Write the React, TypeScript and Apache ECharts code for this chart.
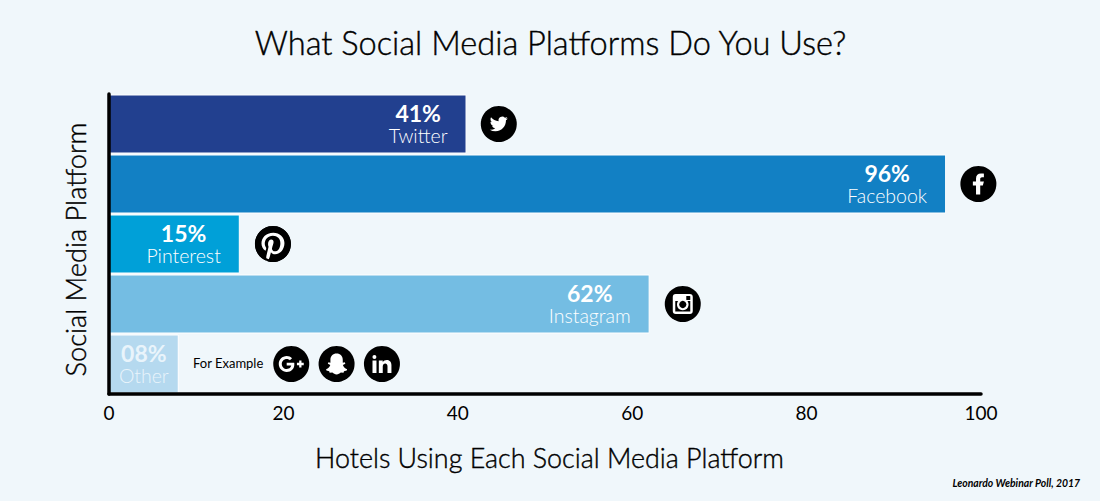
import React, { useEffect, useRef } from "react";
import * as echarts from "echarts";

const categories = ["Twitter", "Facebook", "Pinterest", "Instagram", "Other"];
const values = [41, 96, 15, 62, 8];
const valueLabels = ["41%", "96%", "15%", "62%", "08%"];
const barColors = ["#22408f", "#1280c4", "#00a0d8", "#74bde3", "#b5d9ef"];
const xTicks = [0, 20, 40, 60, 80, 100];

const iconCategories = ["Twitter", "Facebook", "Pinterest", "Instagram", "Other", "Other", "Other"];
const iconPositions = [44.7, 99.7, 18.8, 65.8, 20.9, 26.1, 31.3];
const iconNames = ["twitter", "facebook", "pinterest", "instagram", "google", "snapchat", "linkedin"];

const ICONS: Record<string, { d: string; size: number; inverted?: boolean }> = {
  twitter: {
    size: 18,
    d: "M23.953 4.57a10 10 0 0 1-2.825.775 4.958 4.958 0 0 0 2.163-2.723c-.951.555-2.005.959-3.127 1.184a4.92 4.92 0 0 0-8.384 4.482C7.69 8.095 4.067 6.13 1.64 3.162a4.822 4.822 0 0 0-.666 2.475c0 1.71.87 3.213 2.188 4.096a4.904 4.904 0 0 1-2.228-.616v.06a4.923 4.923 0 0 0 3.946 4.827 4.996 4.996 0 0 1-2.212.085 4.936 4.936 0 0 0 4.604 3.417 9.867 9.867 0 0 1-6.102 2.105c-.39 0-.779-.023-1.17-.067a13.995 13.995 0 0 0 7.557 2.209c9.053 0 13.998-7.496 13.998-13.985 0-.21 0-.42-.015-.63A9.935 9.935 0 0 0 24 4.59z",
  },
  facebook: {
    size: 21,
    d: "M14 13.5h2.5l1-4H14v-2c0-1.03 0-2 2-2h1.5V2.14c-.326-.043-1.557-.14-2.857-.14C11.928 2 10 3.657 10 6.7v2.8H7v4h3V22h4v-8.5z",
  },
  pinterest: {
    size: 36,
    inverted: true,
    d: "M12.017 0C5.396 0 .029 5.367.029 11.987c0 5.079 3.158 9.417 7.618 11.162-.105-.949-.199-2.403.041-3.439.219-.937 1.406-5.957 1.406-5.957s-.359-.72-.359-1.781c0-1.663.967-2.911 2.168-2.911 1.024 0 1.518.769 1.518 1.688 0 1.029-.653 2.567-.992 3.992-.285 1.193.6 2.165 1.775 2.165 2.128 0 3.768-2.245 3.768-5.487 0-2.861-2.063-4.869-5.008-4.869-3.41 0-5.409 2.562-5.409 5.199 0 1.033.394 2.143.889 2.741.099.12.112.225.085.345-.09.375-.293 1.199-.334 1.363-.053.225-.172.271-.401.165-1.495-.69-2.433-2.878-2.433-4.646 0-3.776 2.748-7.252 7.92-7.252 4.158 0 7.392 2.967 7.392 6.923 0 4.135-2.607 7.462-6.233 7.462-1.214 0-2.354-.629-2.758-1.379l-.749 2.848c-.269 1.045-1.004 2.352-1.498 3.146 1.123.345 2.306.535 3.55.535 6.607 0 11.985-5.365 11.985-11.987C23.97 5.39 18.592.026 11.985.026L12.017 0z",
  },
  google: {
    size: 25,
    d: "M7.635 10.909v2.619h4.335c-.173 1.125-1.31 3.295-4.331 3.295-2.604 0-4.731-2.16-4.731-4.823 0-2.662 2.122-4.822 4.728-4.822 1.485 0 2.478.633 3.045 1.178l2.073-1.994c-1.33-1.245-3.056-1.995-5.115-1.995C3.412 4.365 0 7.785 0 12s3.414 7.635 7.635 7.635c4.41 0 7.332-3.098 7.332-7.461 0-.501-.054-.885-.12-1.265H7.635zm16.365 0h-2.183V8.726h-2.183v2.183h-2.182v2.181h2.184v2.184h2.189V13.09H24",
  },
  snapchat: {
    size: 21,
    d: "M12 3c3 0 5 2.2 5 5.2v2.3l1.6-.4.5 1.2-2 1.1c.4 1.5 1.6 2.8 3.4 3.4l-.3 1-2.2.5-.4 1.2-2.2-.1c-1 .8-2 1.6-3.4 1.6s-2.4-.8-3.4-1.6l-2.2.1-.4-1.2-2.2-.5-.3-1c1.8-.6 3-1.9 3.4-3.4l-2-1.1.5-1.2 1.6.4V8.2C7 5.2 9 3 12 3z",
  },
  linkedin: {
    size: 19,
    d: "M6.94 5a2 2 0 1 1-4-.002 2 2 0 0 1 4 .002zM7 8.48H3V21h4V8.48zm6.32 0H9.34V21h3.94v-6.57c0-3.66 4.77-4 4.77 0V21H22v-7.93c0-6.17-7.06-5.94-8.72-2.91l.04-1.68z",
  },
};

const FONT = "Lato";
const BG = "#f0f7fb";
const HEADING = { fontFamily: FONT, fontWeight: 300, color: "#000", textBorderColor: "#000", textBorderWidth: 0.4 };

export default function App() {
  const ref = useRef<HTMLDivElement>(null);
  useEffect(() => {
    document.body.style.margin = "0";
    document.body.style.background = BG;
    const chart = echarts.init(ref.current!, undefined, { renderer: "svg" });
    chart.setOption({
      animation: false,
      backgroundColor: BG,
      textStyle: { fontFamily: FONT },
      title: [
        {
          text: "What Social Media Platforms Do You Use?",
          left: 545.5,
          top: 21,
          textAlign: "center",
          textStyle: { ...HEADING, fontSize: 32.6 },
        },
        {
          text: "Leonardo Webinar Poll, 2017",
          left: 1075,
          top: 473,
          textAlign: "right",
          textStyle: { fontFamily: FONT, fontSize: 10.4, fontStyle: "italic", fontWeight: 700, color: "#000" },
        },
      ],
      grid: { left: 109, right: 119, top: 94, bottom: 107 },
      xAxis: {
        type: "value",
        min: 0,
        max: 100,
        interval: 20,
        z: 10,
        name: "Hotels Using Each Social Media Platform",
        nameLocation: "middle",
        nameGap: 50,
        nameTextStyle: { ...HEADING, fontSize: 26.9, padding: [0, 0, 0, 9] },
        axisLine: { show: true, lineStyle: { color: "#000", width: 3.5 } },
        axisTick: { show: false },
        splitLine: { show: false },
        axisLabel: {
          margin: 9,
          fontFamily: FONT,
          fontSize: 19,
          color: "#000",
          customValues: xTicks,
        },
      },
      yAxis: {
        type: "category",
        inverse: true,
        data: categories,
        z: 10,
        name: "Social Media Platform",
        nameLocation: "middle",
        nameGap: 20,
        nameRotate: 90,
        nameTextStyle: { ...HEADING, fontSize: 27.2, padding: [0, 11, 0, 0] },
        axisLine: { show: true, lineStyle: { color: "#000", width: 3.5 } },
        axisTick: { show: false },
        axisLabel: { show: false },
        splitLine: { show: false },
      },
      graphic: [
        {
          type: "text",
          x: 193,
          y: 363,
          style: {
            text: "For Example",
            fontFamily: FONT,
            fontSize: 13,
            fontWeight: 400,
            fill: "#000",
            verticalAlign: "middle",
          },
        },
      ],
      series: [
        {
          type: "bar",
          barWidth: 59,
          data: values.map((v, i) => ({
            value: v,
            itemStyle: { color: barColors[i], borderColor: "#ffffff", borderWidth: 1 },
            label: {
              show: true,
              position: "insideRight",
              distance: i === 4 ? 10 : 19,
              formatter: `{v|${valueLabels[i]}}\n{n|${categories[i]}}`,
              rich: {
                v: {
                  fontFamily: FONT,
                  fontSize: 23,
                  fontWeight: 700,
                  lineHeight: 23,
                  align: "center",
                  color: i === 4 ? "#e9f4fb" : "#fff",
                },
                n: {
                  fontFamily: FONT,
                  fontSize: 19.5,
                  fontWeight: 300,
                  lineHeight: 22,
                  align: "center",
                  color: i === 4 ? "#e9f4fb" : "#fff",
                },
              },
            },
          })),
        },
        {
          type: "custom",
          silent: true,
          coordinateSystem: "cartesian2d",
          encode: { x: 0, y: 1 },
          data: iconPositions.map((v, i) => [v, iconCategories[i], iconNames[i]]),
          renderItem: (_p: any, api: any) => {
            const name = iconNames[_p.dataIndex];
            const [cx, cy] = api.coord([api.value(0), categories.indexOf(iconCategories[_p.dataIndex])]);
            const children: any[] = [
              { type: "circle", shape: { cx, cy, r: 18 }, style: { fill: "#000" } },
            ];
            if (name === "instagram") {
              children.push(
                { type: "rect", shape: { x: cx - 10, y: cy - 10, width: 20, height: 20, r: 3 }, style: { fill: "#fff" } },
                { type: "rect", shape: { x: cx - 7.5, y: cy - 3, width: 15, height: 10.5, r: 0 }, style: { fill: "#000" } },
                { type: "rect", shape: { x: cx + 3.5, y: cy - 8, width: 4, height: 4, r: 0.5 }, style: { fill: "#000" } },
                { type: "circle", shape: { cx, cy: cy + 0.5, r: 5.8 }, style: { fill: "#fff" } },
                { type: "circle", shape: { cx, cy: cy + 0.5, r: 3.6 }, style: { fill: "#000" } }
              );
            } else {
              const ic = ICONS[name];
              if (ic.inverted) {
                children.push({ type: "circle", shape: { cx, cy, r: 16 }, style: { fill: "#fff" } });
              }
              children.push({
                type: "path",
                shape: {
                  pathData: ic.d,
                  layout: "center",
                  x: cx - ic.size / 2,
                  y: cy - ic.size / 2,
                  width: ic.size,
                  height: ic.size,
                },
                style: { fill: ic.inverted ? "#000" : "#fff" },
              });
            }
            return { type: "group", children };
          },
        },
      ],
    });
    return () => chart.dispose();
  }, []);
  return <div ref={ref} style={{ width: 1100, height: 501 }} />;
}
